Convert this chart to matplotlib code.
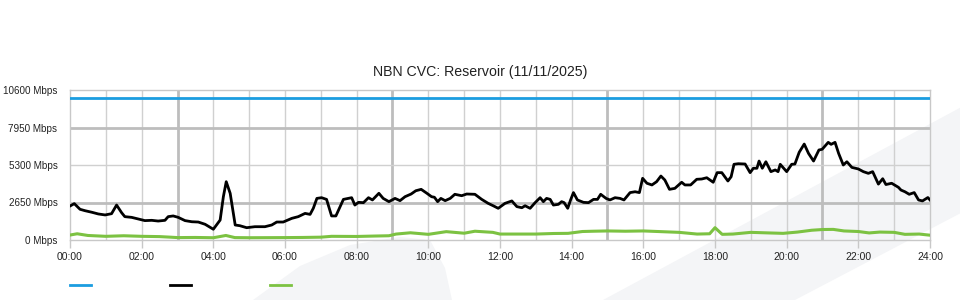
import matplotlib
matplotlib.use("Agg")
import matplotlib.pyplot as plt
from matplotlib.patches import Polygon
from matplotlib.lines import Line2D

plt.rcParams['font.family'] = ['Liberation Sans', 'DejaVu Sans']

# Capacity (constant)
capacity_t = [0, 24]
capacity_v = [10000, 10000]

# Traffic in (black), hours / Mbps
black_t = [0.00, 0.12, 0.28, 0.42, 0.61, 0.79, 0.98, 1.16, 1.30, 1.44, 1.53, 1.72, 1.91, 2.09,
           2.28, 2.46, 2.65, 2.74, 2.88, 3.02, 3.21, 3.40, 3.58, 3.77, 4.00, 4.19, 4.28, 4.36,
           4.47, 4.61, 4.74, 4.93, 5.16, 5.44, 5.63, 5.77, 5.95,
           6.19, 6.37, 6.56, 6.70, 6.79, 6.89, 7.02, 7.16, 7.30, 7.42, 7.54, 7.63, 7.77, 7.86,
           7.95, 8.05, 8.19, 8.33, 8.44, 8.62, 8.74, 8.90, 9.07, 9.21, 9.35, 9.52, 9.65, 9.80,
           9.96, 10.09, 10.17, 10.26, 10.35, 10.47, 10.61, 10.74, 10.93, 11.07, 11.30, 11.49,
           11.67, 11.81, 11.95,
           12.14, 12.33, 12.47, 12.61, 12.70, 12.84, 12.98, 13.12, 13.21, 13.30, 13.40, 13.49,
           13.63, 13.72, 13.79, 13.89, 13.97, 14.05, 14.16, 14.33, 14.47, 14.61, 14.72, 14.81,
           14.96, 15.07, 15.21, 15.35, 15.46, 15.63, 15.77, 15.89, 15.98, 16.10, 16.24, 16.37,
           16.49, 16.60, 16.73, 16.88, 17.07, 17.16, 17.32, 17.49, 17.63, 17.77, 17.95, 18.06,
           18.19, 18.36, 18.45,
           18.53, 18.65, 18.84, 18.98, 19.07, 19.17, 19.23, 19.32, 19.42, 19.56, 19.68, 19.76,
           19.82, 20.00, 20.14, 20.23, 20.35, 20.49, 20.61, 20.75, 20.90, 20.99, 21.16, 21.24,
           21.35, 21.45, 21.58, 21.68, 21.82, 22.00, 22.14, 22.28, 22.40, 22.56, 22.68, 22.77,
           22.93, 23.03, 23.12, 23.19, 23.30, 23.42, 23.56, 23.68, 23.79, 23.94, 24.00]
black_v = [2400, 2570, 2170, 2070, 1960, 1840, 1770, 1860, 2470, 1930, 1650, 1600, 1480, 1370,
           1390, 1340, 1390, 1650, 1700, 1600, 1370, 1290, 1270, 1110, 760, 1410, 3060, 4120,
           3300, 1060, 1010, 870, 940, 940, 1060, 1270, 1270,
           1530, 1650, 1880, 1810, 2240, 2940, 2990, 2870, 1700, 1700, 2360, 2870, 2940, 2990,
           2470, 2660, 2640, 2990, 2830, 3300, 2940, 2710, 2940, 2780, 3060, 3250, 3480, 3580,
           3300, 3060, 3020, 2710, 2940, 2780, 2940, 3230, 3130, 3250, 3230, 2870,
           2590, 2420, 2240,
           2590, 2760, 2360, 2280, 2420, 2240, 2640, 2990, 2710, 2940, 2870, 2470,
           2520, 2710, 2640, 2240, 2830, 3350, 2830, 2660, 2640, 2870, 2870, 3230,
           2940, 2830, 2990, 2940, 2830, 3350, 3410, 3350, 4360, 4010, 3890, 4120,
           4520, 4240, 3580, 3650, 4080, 3890, 3890, 4290, 4310, 4400, 4080, 4760,
           4760, 4170, 4470,
           5350, 5390, 5370, 4760, 5070, 5070, 5580, 5070, 5530, 4830, 4950, 4830,
           5350, 4830, 5350, 5370, 6200, 6780, 6120, 5580, 6360, 6410, 6900, 6760,
           6900, 6120, 5300, 5530, 5130, 5020, 4830, 4710, 4830, 3950, 4330, 3920,
           4010, 3860, 3720, 3530, 3410, 3230, 3350, 2830, 2760, 3000, 2830]

# Traffic out (green)
green_t = [0, 0.2, 0.5, 1.0, 1.5, 2.0, 2.5, 2.8, 3.0, 3.5, 4.0, 4.35, 4.6, 5.0, 6.0, 6.5, 7.0,
           7.3, 8.0, 8.5, 8.9, 9.1, 9.5, 10.0, 10.5, 11.0, 11.3, 11.8, 12.0, 12.5, 13.0, 13.5,
           13.9, 14.3, 14.6, 15.0, 15.5, 16.0, 16.5, 17.0, 17.5, 17.85, 18.0, 18.2, 18.5, 19.0,
           19.5, 19.9, 20.3, 20.7, 21.0, 21.3, 21.6, 22.0, 22.3, 22.6, 23.0, 23.3, 23.7, 24.0]
green_v = [350, 440, 320, 260, 300, 260, 240, 200, 170, 180, 160, 320, 170, 160, 170, 180, 200,
           260, 250, 280, 300, 420, 510, 400, 590, 480, 620, 540, 420, 420, 420, 460,
           470, 600, 620, 640, 620, 640, 590, 540, 420, 440, 870, 400, 420, 540,
           500, 470, 560, 690, 740, 750, 640, 600, 500, 560, 540, 400, 420, 340]

y_ticks = [0, 2650, 5300, 7950, 10600]
x_ticks = list(range(0, 25, 2))
x_labels = ['%02d:00' % h for h in x_ticks]

fig = plt.figure(figsize=(9.6, 3.0), dpi=100)

# faint watermark shapes behind the chart
def px(pts):
    return [(x / 960, 1 - y / 300) for x, y in pts]

band = Polygon(px([(603, 300), (980, 97), (980, 203), (795, 300)]), closed=True,
               facecolor='#f4f5f7', edgecolor='none', transform=fig.transFigure, zorder=-5)
blob = Polygon(px([(253, 300), (300, 266), (350, 245), (400, 237), (430, 240),
                   (445, 268), (452, 300)]), closed=True,
               facecolor='#f4f5f7', edgecolor='none', transform=fig.transFigure, zorder=-5)
fig.patches.extend([band, blob])

ax = fig.add_axes([70 / 960, 0.2, 860 / 960, 0.5])
ax.set_facecolor('none')
ax.set_zorder(1)

# grid
for h in range(1, 24):
    if (h - 3) % 6 == 0:
        ax.axvline(h, color='#bdbdbd', lw=2, zorder=1)
    else:
        ax.axvline(h, color='#d0d0d0', lw=1, zorder=1)
for v in y_ticks[1:-1]:
    if v == 5300:
        ax.axhline(v, color='#d0d0d0', lw=1, zorder=1)
    else:
        ax.axhline(v, color='#bdbdbd', lw=2, zorder=1)

ax.plot(capacity_t, capacity_v, color='#1b9de0', lw=2, zorder=3)
ax.plot(black_t, black_v, color='#000000', lw=2, zorder=4, solid_joinstyle='round')
ax.plot(green_t, green_v, color='#7cc242', lw=2.2, zorder=3, solid_joinstyle='round')

ax.set_xlim(0, 24)
ax.set_ylim(0, 10600)
ax.set_xticks(x_ticks)
ax.set_xticklabels(x_labels)
ax.set_yticks(y_ticks)
ax.set_yticklabels(['%d Mbps' % v for v in y_ticks])
ax.tick_params(axis='x', length=6, width=1, color='#c8c8c8', pad=3, labelsize=7.5,
               labelcolor='#222222')
ax.tick_params(axis='y', length=0, pad=9, labelsize=7.1, labelcolor='#222222')
for s in ax.spines.values():
    s.set_color('#c8c8c8')
    s.set_linewidth(1)

fig.text(0.5, 1 - 76 / 300, 'NBN CVC: Reservoir (11/11/2025)', ha='center', va='baseline',
         fontsize=10.2, color='#222222')

# legend swatches (no labels)
for x0, c in [(70, '#1b9de0'), (170, '#000000'), (270, '#7cc242')]:
    fig.add_artist(Line2D([x0 / 960, (x0 + 21) / 960], [1 - 285 / 300, 1 - 285 / 300],
                          color=c, lw=2, transform=fig.transFigure))

fig.savefig('out.png', dpi=100)
